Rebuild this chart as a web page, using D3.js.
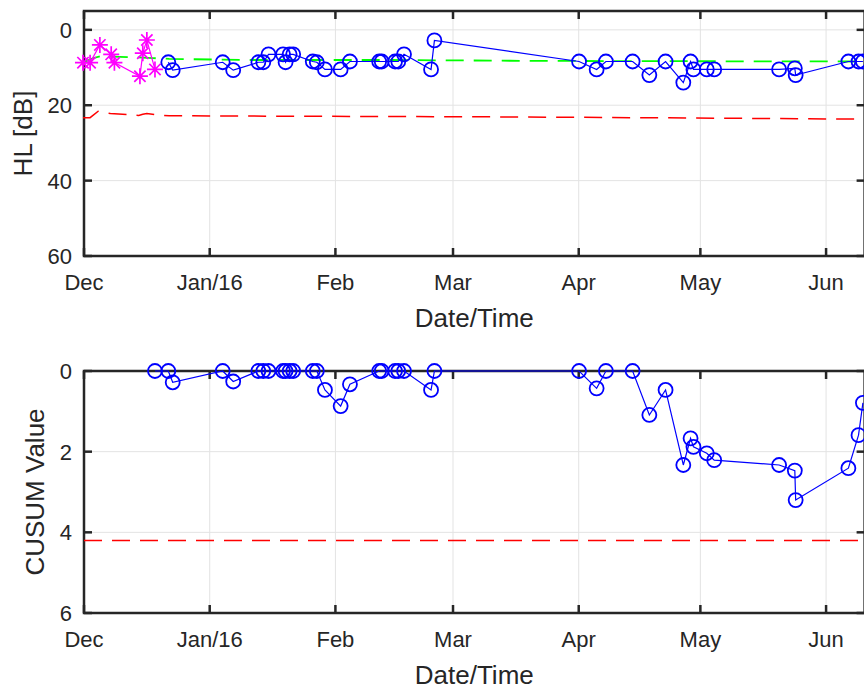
<!DOCTYPE html>
<html>
<head>
<meta charset="utf-8">
<script src="https://cdn.jsdelivr.net/npm/d3@7"></script>
<style>
  body { margin: 0; background: #fff; }
  svg { display: block; font-family: 'Liberation Sans', Arial, sans-serif; }
</style>
</head>
<body>
<div id="chart"></div>
<script>
// month ticks shared by both panels
const monthTicks = ['2015-12-01 00', '2016-01-01 00', '2016-02-01 00', '2016-03-01 00', '2016-04-01 00', '2016-05-01 00', '2016-06-01 00']
const monthLabels = ['Dec', 'Jan/16', 'Feb', 'Mar', 'Apr', 'May', 'Jun']

// baseline measurements (magenta stars)
const baselineDates = ['2015-11-30 18', '2015-12-02 12', '2015-12-04 22', '2015-12-07 17', '2015-12-08 12',
  '2015-12-14 19', '2015-12-15 12', '2015-12-16 12', '2015-12-18 12']
const baselineHL = [8.7, 8.7, 4.0, 6.5, 8.7, 12.3, 6.2, 2.7, 10.5]

// follow-up measurements (blue circles)
const followDates = ['2015-12-21 19', '2015-12-22 21', '2016-01-04 05', '2016-01-06 19', '2016-01-13 00',
  '2016-01-14 05', '2016-01-15 12', '2016-01-19 02', '2016-01-19 17', '2016-01-20 17', '2016-01-21 14',
  '2016-01-26 10', '2016-01-27 10', '2016-01-29 10', '2016-02-02 07', '2016-02-04 14', '2016-02-11 19',
  '2016-02-12 10', '2016-02-15 17', '2016-02-16 12', '2016-02-17 22', '2016-02-24 14', '2016-02-25 10',
  '2016-04-01 02', '2016-04-05 10', '2016-04-07 17', '2016-04-14 07', '2016-04-18 10', '2016-04-22 10',
  '2016-04-26 19', '2016-04-28 14', '2016-04-29 07', '2016-05-02 14', '2016-05-04 10', '2016-05-20 10',
  '2016-05-24 07', '2016-05-24 12', '2016-06-06 12', '2016-06-09 00', '2016-06-10 02']
const followHL = [8.6, 10.7, 8.6, 10.7, 8.6, 8.6, 6.5, 6.5, 8.6, 6.5, 6.5,
  8.4, 8.6, 10.5, 10.5, 8.4, 8.4, 8.4, 8.4, 8.4, 6.5, 10.5, 2.8,
  8.4, 10.5, 8.4, 8.4, 12.0, 8.4, 14.0, 8.4, 10.5, 10.5, 10.5, 10.5,
  10.2, 12.0, 8.4, 8.4, 8.4]

// running mean (green) and limit (red) of hearing level
const meanDates = ['2015-11-30 18', '2015-12-03 00', '2015-12-05 00', '2015-12-08 00', '2015-12-14 00',
  '2015-12-18 00', '2015-12-22 00', '2016-01-10 00', '2016-02-15 00', '2016-03-15 00', '2016-04-15 00', '2016-06-11 00']
const meanHL = [8.7, 7.6, 7.0, 7.1, 7.3, 7.5, 7.7, 8.0, 8.0, 8.2, 8.3, 8.4]
const limitDates = ['2015-11-30 18', '2015-12-02 12', '2015-12-04 12', '2015-12-07 12', '2015-12-14 12',
  '2015-12-15 12', '2015-12-16 12', '2015-12-18 12', '2015-12-22 00', '2016-01-15 00', '2016-02-15 00',
  '2016-03-15 00', '2016-04-15 00', '2016-05-15 00', '2016-06-11 00']
const limitHL = [23.3, 23.3, 21.6, 22.2, 22.7, 22.4, 22.2, 22.5, 22.8, 22.9, 23.0, 23.1, 23.3, 23.5, 23.7]

// CUSUM statistic
const cusumDates = [baselineDates[baselineDates.length - 1]].concat(followDates)
const cusumValues = [0, 0, 0.28, 0, 0.26, 0, 0, 0, 0, 0, 0, 0, 0, 0, 0.47, 0.87, 0.33, 0, 0, 0, 0, 0, 0.47, 0,
  0, 0.43, 0, 0, 1.09, 0.47, 2.33, 1.67, 1.88, 2.04, 2.21, 2.33, 2.47, 3.2, 2.41, 1.59, 0.79]
const cusumLimit = 4.2

const hlTicks = [0, 20, 40, 60]
const cusumTicks = [0, 2, 4, 6]

const parse = d3.utcParse('%Y-%m-%d %H')
const W = 864
const H = 691
const axisColor = '#262626'

const svg = d3.select('#chart').append('svg').attr('width', W).attr('height', H)

const xScale = d3.scaleUtc()
  .domain([parse('2015-12-01 00'), parse('2016-06-10 12')])
  .range([84, 864.6])

const yTop = d3.scaleLinear().domain([-5, 60]).range([11, 256])
const yBottom = d3.scaleLinear().domain([0, 6]).range([371, 613])

function drawFrame(yScale, yTicks, yLabel, labelX) {
  const [x0, x1] = xScale.range()
  const [yA, yB] = yScale.range()
  const g = svg.append('g')
  const months = monthTicks.map(parse)

  // grid
  g.selectAll('.vgrid').data(months).enter().append('line')
    .attr('x1', d => xScale(d)).attr('x2', d => xScale(d))
    .attr('y1', yA).attr('y2', yB)
    .attr('stroke', '#e3e3e3').attr('stroke-width', 1)
  g.selectAll('.hgrid').data(yTicks).enter().append('line')
    .attr('x1', x0).attr('x2', x1)
    .attr('y1', d => yScale(d)).attr('y2', d => yScale(d))
    .attr('stroke', '#e3e3e3').attr('stroke-width', 1)

  // box
  g.append('rect')
    .attr('x', x0).attr('y', yA).attr('width', x1 - x0).attr('height', yB - yA)
    .attr('fill', 'none').attr('stroke', axisColor).attr('stroke-width', 2.5)

  // ticks, pointing inward on every side
  const tl = 8
  months.forEach(d => {
    g.append('line').attr('x1', xScale(d)).attr('x2', xScale(d)).attr('y1', yB).attr('y2', yB - tl)
      .attr('stroke', axisColor).attr('stroke-width', 2.5)
    g.append('line').attr('x1', xScale(d)).attr('x2', xScale(d)).attr('y1', yA).attr('y2', yA + tl)
      .attr('stroke', axisColor).attr('stroke-width', 2.5)
  })
  yTicks.forEach(d => {
    g.append('line').attr('x1', x0).attr('x2', x0 + tl).attr('y1', yScale(d)).attr('y2', yScale(d))
      .attr('stroke', axisColor).attr('stroke-width', 2.5)
    g.append('line').attr('x1', x1).attr('x2', x1 - tl).attr('y1', yScale(d)).attr('y2', yScale(d))
      .attr('stroke', axisColor).attr('stroke-width', 2.5)
  })

  // tick labels
  g.selectAll('.xlab').data(months).enter().append('text')
    .attr('x', d => xScale(d)).attr('y', yB + 34)
    .attr('text-anchor', 'middle').attr('font-size', 22).attr('fill', axisColor)
    .text((d, i) => monthLabels[i])
  g.selectAll('.ylab').data(yTicks).enter().append('text')
    .attr('x', x0 - 12).attr('y', d => yScale(d)).attr('dy', '0.36em')
    .attr('text-anchor', 'end').attr('font-size', 22).attr('fill', axisColor)
    .text(d => d)

  // axis titles
  g.append('text')
    .attr('x', (x0 + x1) / 2).attr('y', yB + 71)
    .attr('text-anchor', 'middle').attr('font-size', 26).attr('fill', axisColor)
    .text('Date/Time')
  g.append('text')
    .attr('transform', 'translate(' + labelX + ',' + (yA + yB) / 2 + ') rotate(-90)')
    .attr('text-anchor', 'middle').attr('font-size', 26).attr('fill', axisColor)
    .text(yLabel)
}

drawFrame(yTop, hlTicks, 'HL [dB]', 32)
drawFrame(yBottom, cusumTicks, 'CUSUM Value', 44)

const dash = '18,10'

// ---- top panel ----
const lineTop = d3.line().x(d => xScale(d[0])).y(d => yTop(d[1]))

svg.append('path')
  .datum(meanDates.map((d, i) => [parse(d), meanHL[i]]))
  .attr('d', lineTop).attr('fill', 'none')
  .attr('stroke', '#00ff00').attr('stroke-width', 1.8).attr('stroke-dasharray', dash)

svg.append('path')
  .datum(limitDates.map((d, i) => [parse(d), limitHL[i]]))
  .attr('d', lineTop).attr('fill', 'none')
  .attr('stroke', '#ff0000').attr('stroke-width', 1.5).attr('stroke-dasharray', dash)

const baseline = baselineDates.map((d, i) => [parse(d), baselineHL[i]])
svg.append('path').datum(baseline).attr('d', lineTop).attr('fill', 'none')
  .attr('stroke', '#ff00ff').attr('stroke-width', 1.2)

const r = 8
const a = r * 0.707
const star = `M0,${-r}L0,${r}M${-r},0L${r},0M${-a},${-a}L${a},${a}M${-a},${a}L${a},${-a}`
svg.selectAll('.star').data(baseline).enter().append('path')
  .attr('d', star)
  .attr('transform', d => 'translate(' + xScale(d[0]) + ',' + yTop(d[1]) + ')')
  .attr('fill', 'none').attr('stroke', '#ff00ff').attr('stroke-width', 1.7)

const follow = followDates.map((d, i) => [parse(d), followHL[i]])
svg.append('path').datum(follow).attr('d', lineTop).attr('fill', 'none')
  .attr('stroke', '#0000ff').attr('stroke-width', 1.2)
svg.selectAll('.hlc').data(follow).enter().append('circle')
  .attr('cx', d => xScale(d[0])).attr('cy', d => yTop(d[1])).attr('r', 7)
  .attr('fill', 'none').attr('stroke', '#0000ff').attr('stroke-width', 1.8)

// ---- bottom panel ----
const lineBottom = d3.line().x(d => xScale(d[0])).y(d => yBottom(d[1]))

svg.append('line')
  .attr('x1', xScale.range()[0]).attr('x2', xScale.range()[1])
  .attr('y1', yBottom(cusumLimit)).attr('y2', yBottom(cusumLimit))
  .attr('stroke', '#ff0000').attr('stroke-width', 1.5).attr('stroke-dasharray', dash)

const cusum = cusumDates.map((d, i) => [parse(d), cusumValues[i]])
svg.append('path').datum(cusum).attr('d', lineBottom).attr('fill', 'none')
  .attr('stroke', '#0000ff').attr('stroke-width', 1.2)
svg.selectAll('.cc').data(cusum).enter().append('circle')
  .attr('cx', d => xScale(d[0])).attr('cy', d => yBottom(d[1])).attr('r', 7)
  .attr('fill', 'none').attr('stroke', '#0000ff').attr('stroke-width', 1.8)
</script>
</body>
</html>
